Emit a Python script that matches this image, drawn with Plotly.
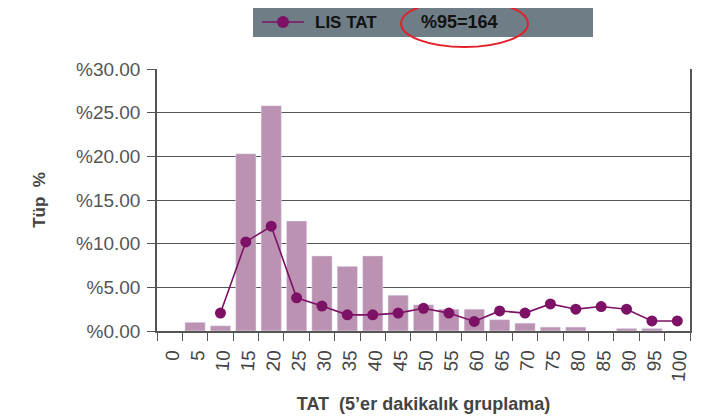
import plotly.graph_objects as go

categories = [str(v) for v in range(0, 105, 5)]
bar_values = [0, 1.0, 0.6, 20.3, 25.8, 12.6, 8.6, 7.4, 8.6, 4.1, 3.0, 2.5, 2.5, 1.3, 0.9, 0.45, 0.45, 0, 0.3, 0.3, 0]
line_cats = [str(v) for v in range(10, 105, 5)]
line_values = [2.05, 10.2, 12.0, 3.8, 2.85, 1.85, 1.85, 2.05, 2.6, 2.05, 1.1, 2.3, 2.05, 3.1, 2.5, 2.8, 2.5, 1.15, 1.15]
y_ticks = [0, 5, 10, 15, 20, 25, 30]
y_ticktext = ["%" + f"{v:.2f}" for v in y_ticks]
series_name = "LIS TAT"
p95_label = "%95=164"

# page has an 8px body margin: figure starts at screen (8, 8)
OFF = 8
W, H = 703 - OFF, 417 - OFF
L, R, T, B = 157 - OFF, 13, 69 - OFF, 86
pw, ph = W - L - R, H - T - B
LINE_COLOR = "#7d1166"

def px(x):  # screen x -> paper
    return (x - OFF - L) / pw

def py(y):  # screen y -> paper
    return (H - B - (y - OFF)) / ph

fig = go.Figure()
fig.add_trace(go.Bar(x=categories, y=bar_values, marker_color="#bc92b2",
                     showlegend=False, hoverinfo="skip"))
fig.add_trace(go.Scatter(x=line_cats, y=line_values, mode="lines+markers",
                         showlegend=False,
                         line=dict(color=LINE_COLOR, width=1.6),
                         marker=dict(color=LINE_COLOR, size=11)))

# legend box
fig.add_shape(type="rect", xref="paper", yref="paper",
              x0=px(253), x1=px(593), y0=py(37), y1=py(8),
              fillcolor="#6f7d86", line=dict(width=0), layer="below")
fig.add_shape(type="line", xref="paper", yref="paper",
              x0=px(262), x1=px(304), y0=py(22), y1=py(22),
              line=dict(color=LINE_COLOR, width=1.6))
fig.add_shape(type="circle", xref="paper", yref="paper",
              x0=px(277), x1=px(289), y0=py(28), y1=py(16),
              fillcolor=LINE_COLOR, line=dict(width=0))
fig.add_annotation(text="<b>" + series_name + "</b>", xref="paper", yref="paper",
                   x=px(313), y=py(22), xanchor="left", yanchor="middle", showarrow=False,
                   font=dict(size=17, color="#111", family="Liberation Sans"))
fig.add_shape(type="circle", xref="paper", yref="paper",
              x0=px(401), x1=px(528), y0=py(47), y1=py(0),
              line=dict(color="#e3202a", width=2))
fig.add_annotation(text="<b>" + p95_label + "</b>", xref="paper", yref="paper",
                   x=px(459), y=py(22), xanchor="center", yanchor="middle", showarrow=False,
                   font=dict(size=18, color="#111", family="Liberation Sans"))

fig.update_layout(
    width=W, height=H,
    margin=dict(l=L, r=R, t=T, b=B, autoexpand=False),
    plot_bgcolor="white", paper_bgcolor="white",
    bargap=0.2,
    font=dict(family="Liberation Sans", color="#444"),
    xaxis=dict(type="category", categoryorder="array", categoryarray=categories,
               tickson="boundaries", ticks="outside", ticklen=8,
               tickcolor="#555", showline=True, linecolor="#555", linewidth=1.5,
               tickangle=-86, tickfont=dict(size=19, color="#444"),
               ticklabelstandoff=4,
               title=dict(text="<b>TAT  (5’er dakikalık gruplama)</b>",
                          font=dict(size=18, color="#444"), standoff=16),
               showgrid=False, range=[-0.5, 20.5], automargin=False),
    yaxis=dict(range=[0, 30], tickvals=y_ticks, ticktext=y_ticktext,
               ticks="outside", ticklen=8, tickcolor="#555",
               showline=True, linecolor="#555", linewidth=1.5, mirror=True,
               showgrid=True, gridcolor="#555", gridwidth=1.2,
               tickfont=dict(size=19, color="#555"), automargin=False,
               ticklabelstandoff=3,
               title=dict(text="<b>Tüp  %</b>", font=dict(size=17, color="#444"),
                          standoff=26)),
)

fig.write_html("out.html")
